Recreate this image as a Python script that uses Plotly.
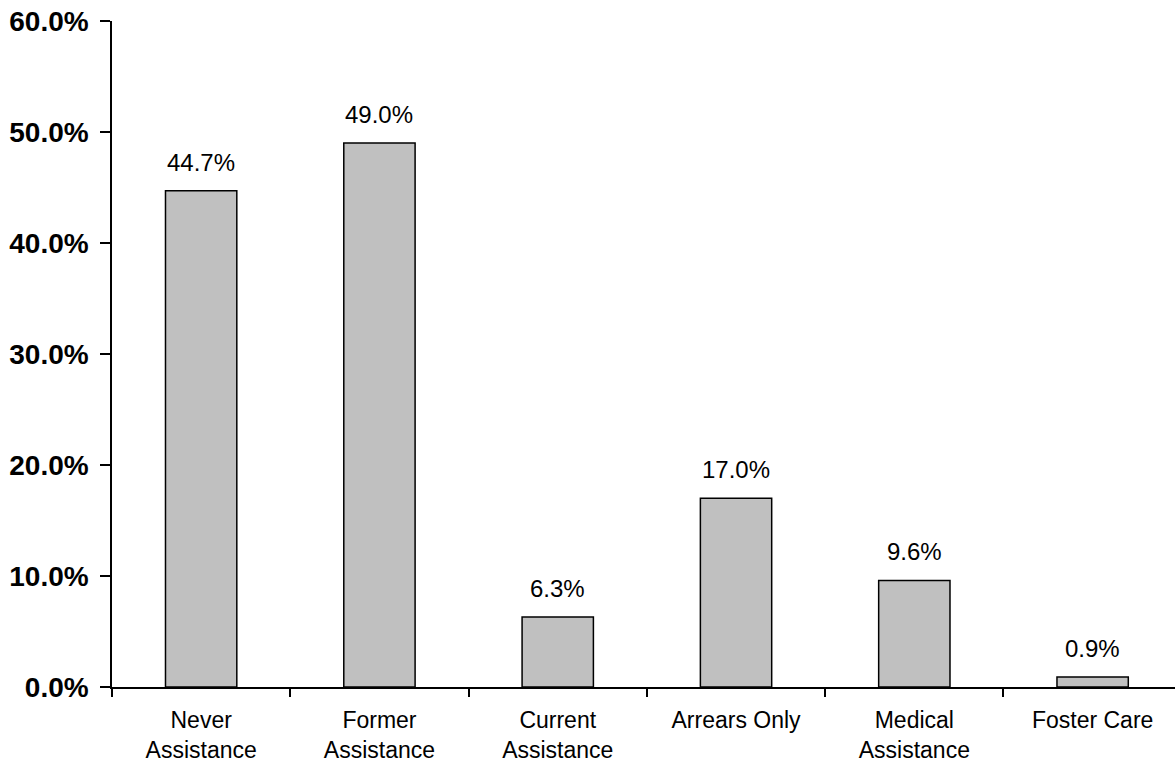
import plotly.graph_objects as go

categories = ["Never<br>Assistance", "Former<br>Assistance", "Current<br>Assistance",
              "Arrears Only", "Medical<br>Assistance", "Foster Care"]
values = [44.7, 49.0, 6.3, 17.0, 9.6, 0.9]
y_ticks = [0, 10, 20, 30, 40, 50, 60]
y_tick_labels = ["0.0%", "10.0%", "20.0%", "30.0%", "40.0%", "50.0%", "60.0%"]

FONT = "Liberation Sans, Arial, sans-serif"

fig = go.Figure()
fig.add_trace(go.Bar(
    x=categories, y=values,
    marker=dict(color="#C0C0C0", line=dict(color="black", width=1.5)),
    width=0.4,
    hoverinfo="skip",
))

for c, v in zip(categories, values):
    fig.add_annotation(x=c, y=v, text=f"{v:.1f}%", showarrow=False,
                       yanchor="bottom", yshift=13,
                       font=dict(family=FONT, size=24, color="black"))

fig.update_layout(
    width=1175, height=763,
    margin=dict(l=112, r=0, t=21, b=76),
    paper_bgcolor="white", plot_bgcolor="white",
    showlegend=False,
    font=dict(family=FONT, color="black"),
)
fig.update_xaxes(
    type="category",
    range=[-0.5, 5.462],
    showline=True, linecolor="black", linewidth=1.5,
    ticks="outside", tickson="boundaries", ticklen=8, tickwidth=1.5, tickcolor="black",
    ticklabelstandoff=12,
    tickfont=dict(family=FONT, size=23, color="black"),
    showgrid=False, zeroline=False,
)
fig.update_yaxes(
    range=[0, 60],
    tickvals=y_ticks, ticktext=[f"<b>{t}</b>" for t in y_tick_labels],
    showline=True, linecolor="black", linewidth=1.5,
    ticks="outside", ticklen=10, tickwidth=1.5, tickcolor="black",
    ticklabelstandoff=6,
    tickfont=dict(family=FONT, size=28, color="black"),
    showgrid=False, zeroline=False,
)

fig.write_html("out.html")
